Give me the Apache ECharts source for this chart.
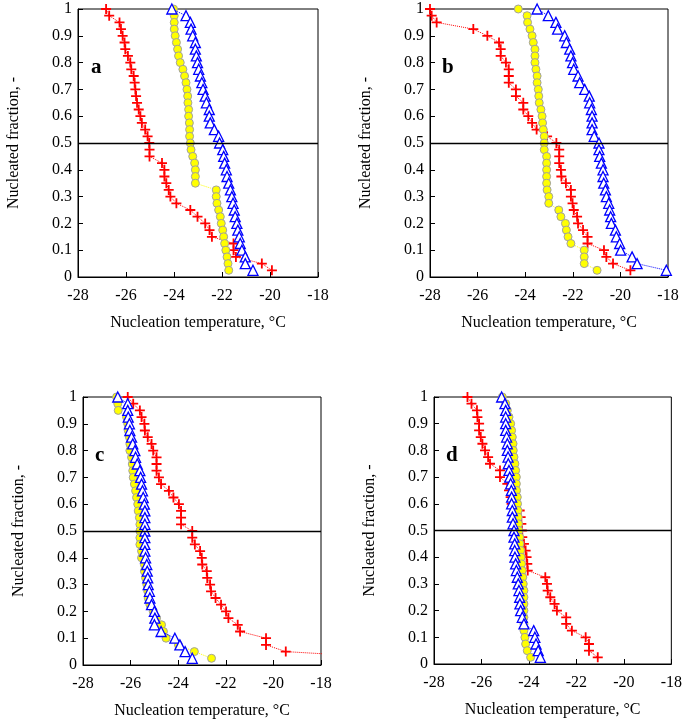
<!DOCTYPE html>
<html><head><meta charset="utf-8">
<script src="https://cdn.jsdelivr.net/npm/echarts@6/dist/echarts.min.js"></script>
<style>html,body{margin:0;padding:0;background:#fff}#c{width:685px;height:725px}</style>
</head><body><div id="c"></div>
<script>
// Nucleated fraction levels (shared by all series)
const FRACTION = [1, 0.975, 0.95, 0.925, 0.9, 0.875, 0.85, 0.825, 0.8, 0.775,
  0.75, 0.725, 0.7, 0.675, 0.65, 0.625, 0.6, 0.575, 0.55, 0.525,
  0.5, 0.475, 0.45, 0.425, 0.4, 0.375, 0.35, 0.325, 0.3, 0.275,
  0.25, 0.225, 0.2, 0.175, 0.15, 0.125, 0.1, 0.075, 0.05, 0.025];
const REF_FRACTION = 0.5;
const PANELS = ['a', 'b', 'c', 'd'];
const X_TITLE = 'Nucleation temperature, °C';
const Y_TITLE = 'Nucleated fraction, -';

// Nucleation temperatures (°C), in order of FRACTION
const A_RED = [-26.83,-26.70,-26.27,-26.21,-26.14,-26.06,-26.03,-25.92,-25.82,-25.78,-25.68,-25.64,-25.61,-25.58,-25.54,-25.47,-25.40,-25.34,-25.20,-25.10,-25.03,-25.02,-25.02,-24.50,-24.40,-24.40,-24.32,-24.22,-24.15,-23.90,-23.32,-23.02,-22.70,-22.52,-22.42,-21.52,-21.52,-21.42,-20.34,-19.92];
const A_YELLOW = [-24.02,-23.99,-23.99,-23.99,-23.95,-23.90,-23.85,-23.81,-23.74,-23.63,-23.56,-23.50,-23.46,-23.43,-23.42,-23.39,-23.39,-23.36,-23.35,-23.35,-23.32,-23.29,-23.22,-23.14,-23.11,-23.11,-23.11,-22.24,-22.24,-22.21,-22.14,-22.07,-22.03,-21.97,-21.93,-21.89,-21.84,-21.79,-21.75,-21.72];
const A_BLUE = [-24.09,-23.50,-23.32,-23.29,-23.22,-23.11,-23.11,-23.07,-23.02,-22.97,-22.90,-22.84,-22.79,-22.70,-22.65,-22.53,-22.53,-22.49,-22.32,-22.14,-22.10,-21.97,-21.93,-21.89,-21.82,-21.79,-21.72,-21.65,-21.59,-21.54,-21.49,-21.45,-21.38,-21.34,-21.28,-21.24,-21.17,-21.03,-21.03,-20.71];

const B_RED = [-28.00,-27.93,-27.72,-26.18,-25.59,-25.10,-25.03,-25.03,-24.81,-24.69,-24.69,-24.69,-24.39,-24.39,-24.08,-24.08,-23.87,-23.71,-23.52,-23.08,-22.69,-22.57,-22.57,-22.57,-22.50,-22.48,-22.29,-22.08,-22.08,-22.01,-21.96,-21.82,-21.78,-21.57,-21.38,-21.38,-20.69,-20.59,-20.31,-19.58];
const B_YELLOW = [-24.29,-23.92,-23.90,-23.80,-23.71,-23.66,-23.59,-23.59,-23.59,-23.55,-23.50,-23.50,-23.45,-23.43,-23.41,-23.34,-23.29,-23.27,-23.24,-23.20,-23.20,-23.20,-23.10,-23.10,-23.10,-23.10,-23.10,-23.08,-23.01,-23.01,-22.59,-22.50,-22.31,-22.27,-22.20,-22.08,-21.52,-21.52,-21.52,-20.98];
const B_BLUE = [-23.50,-23.03,-22.71,-22.64,-22.34,-22.27,-22.13,-22.08,-22.01,-21.96,-21.78,-21.71,-21.50,-21.31,-21.29,-21.22,-21.19,-21.19,-21.19,-21.10,-20.90,-20.90,-20.87,-20.80,-20.73,-20.73,-20.70,-20.63,-20.59,-20.49,-20.45,-20.41,-20.38,-20.21,-20.17,-20.03,-19.99,-19.51,-19.30,-18.07];

const C_RED = [-26.12,-25.89,-25.61,-25.54,-25.42,-25.40,-25.28,-25.12,-25.05,-24.91,-24.91,-24.91,-24.81,-24.72,-24.39,-24.20,-23.97,-23.88,-23.88,-23.88,-23.41,-23.41,-23.30,-23.08,-23.01,-22.99,-22.80,-22.78,-22.66,-22.62,-22.43,-22.20,-21.99,-21.89,-21.50,-21.40,-20.31,-20.31,-19.48,-14.70];
const C_YELLOW = [-26.59,-26.54,-26.52,-26.17,-26.12,-26.10,-26.05,-26.03,-26.03,-25.96,-25.93,-25.91,-25.89,-25.84,-25.79,-25.75,-25.70,-25.68,-25.63,-25.61,-25.61,-25.61,-25.61,-25.54,-25.54,-25.42,-25.42,-25.37,-25.32,-25.28,-25.26,-25.19,-25.05,-24.91,-24.70,-24.62,-24.51,-23.99,-23.32,-22.60];
const C_BLUE = [-26.54,-26.12,-26.12,-26.10,-26.05,-26.03,-25.96,-25.91,-25.82,-25.79,-25.72,-25.61,-25.58,-25.54,-25.50,-25.47,-25.42,-25.40,-25.40,-25.40,-25.40,-25.40,-25.40,-25.40,-25.37,-25.32,-25.30,-25.28,-25.26,-25.21,-25.19,-25.12,-25.00,-24.98,-25.00,-24.72,-24.14,-23.93,-23.71,-23.41];

const D_RED = [-26.59,-26.42,-26.19,-26.17,-26.10,-26.10,-26.03,-25.96,-25.85,-25.72,-25.64,-25.22,-25.22,-24.91,-24.84,-24.77,-24.73,-24.39,-24.35,-24.32,-24.30,-24.28,-24.21,-24.14,-24.10,-24.07,-24.05,-23.31,-23.24,-23.21,-23.10,-22.92,-22.82,-22.43,-22.43,-22.19,-21.61,-21.47,-21.47,-21.10];
const D_YELLOW = [-25.12,-24.98,-24.91,-24.84,-24.77,-24.73,-24.70,-24.67,-24.66,-24.63,-24.59,-24.56,-24.53,-24.53,-24.52,-24.49,-24.48,-24.46,-24.45,-24.44,-24.42,-24.39,-24.38,-24.35,-24.33,-24.31,-24.28,-24.26,-24.24,-24.21,-24.21,-24.21,-24.21,-24.21,-24.21,-24.21,-24.17,-24.14,-24.07,-23.93];
const D_BLUE = [-25.15,-25.01,-24.98,-24.98,-24.98,-24.98,-24.94,-24.91,-24.91,-24.88,-24.87,-24.84,-24.81,-24.77,-24.74,-24.73,-24.73,-24.70,-24.70,-24.67,-24.63,-24.63,-24.60,-24.60,-24.59,-24.56,-24.53,-24.49,-24.45,-24.42,-24.39,-24.38,-24.35,-24.28,-24.21,-23.80,-23.75,-23.70,-23.61,-23.52];

const PANEL_DATA = [
  [A_RED, A_YELLOW, A_BLUE],
  [B_RED, B_YELLOW, B_BLUE],
  [C_RED, C_YELLOW, C_BLUE],
  [D_RED, D_YELLOW, D_BLUE]
];

const FONT = "'Liberation Serif', 'Times New Roman', serif";
const GRIDS = [
  {left: 78, top: 9, width: 240, height: 268},
  {left: 430, top: 9, width: 238, height: 268},
  {left: 83, top: 397, width: 238, height: 268},
  {left: 434, top: 397, width: 239, height: 267}
];
const LETTER_POS = [[91, 57], [442, 57], [95, 445], [446, 445]];

const STYLES = [
  { // red plus
    symbol: 'path://M4.1,0H5.9V4.1H10V5.9H5.9V10H4.1V5.9H0V4.1H4.1Z', symbolSize: 10,
    itemStyle: {color: '#ff0000', borderWidth: 0},
    lineStyle: {color: '#ff0000', type: 'dotted', width: 1}, z: 2
  },
  { // yellow circle
    symbol: 'circle', symbolSize: 8,
    itemStyle: {color: '#ffff00', borderColor: '#a0a0a0', borderWidth: 1},
    lineStyle: {color: '#ffff00', type: 'dotted', width: 1}, z: 3
  },
  { // blue triangle
    symbol: 'triangle', symbolSize: 10,
    itemStyle: {color: '#ffffff', borderColor: '#0000ff', borderWidth: 1.3},
    lineStyle: {color: '#0000ff', type: 'dotted', width: 1}, z: 4
  }
];

const grid = GRIDS.map(g => Object.assign({show: true, borderColor: '#000', borderWidth: 1, backgroundColor: 'transparent'}, g));
const xAxis = GRIDS.map((g, i) => ({
  type: 'value', gridIndex: i, min: -28, max: -18, interval: 2,
  name: X_TITLE, nameLocation: 'middle', nameGap: 38,
  nameTextStyle: {fontFamily: FONT, fontSize: 16, color: '#000'},
  axisLine: {show: true, onZero: false, lineStyle: {color: '#000', width: 1}},
  axisTick: {show: true, inside: true, length: 5, lineStyle: {color: '#000'}},
  axisLabel: {fontFamily: FONT, fontSize: 16, color: '#000', margin: 11},
  splitLine: {show: false}
}));
const yAxis = GRIDS.map((g, i) => ({
  type: 'value', gridIndex: i, min: 0, max: 1, interval: 0.1,
  name: Y_TITLE, nameLocation: 'middle', nameGap: 56,
  nameTextStyle: {fontFamily: FONT, fontSize: 16, color: '#000'},
  axisLine: {show: true, onZero: false, lineStyle: {color: '#000', width: 1}},
  axisTick: {show: true, inside: true, length: 5, lineStyle: {color: '#000'}},
  axisLabel: {fontFamily: FONT, fontSize: 16, color: '#000', margin: 6,
    formatter: v => String(Math.round(v * 10) / 10)},
  splitLine: {show: false}
}));

const series = [];
PANEL_DATA.forEach((panel, p) => {
  panel.forEach((temps, s) => {
    const st = STYLES[s];
    const ser = {
      type: 'line', xAxisIndex: p, yAxisIndex: p,
      data: temps.map((t, j) => [t, FRACTION[j]]),
      symbol: st.symbol, symbolSize: st.symbolSize, showSymbol: true,
      itemStyle: st.itemStyle, lineStyle: st.lineStyle, z: st.z,
      clip: true, silent: true, animation: false,
      emphasis: {disabled: true}
    };
    if (s === 0) {
      ser.markLine = {
        silent: true, symbol: ['none', 'none'], animation: false,
        label: {show: false},
        lineStyle: {color: '#000', type: 'solid', width: 1.3},
        data: [{yAxis: REF_FRACTION}]
      };
    }
    series.push(ser);
  });
});

const graphic = PANELS.map((t, i) => ({
  type: 'text', x: LETTER_POS[i][0], y: LETTER_POS[i][1], z: 10,
  style: {text: t, font: "bold 21px " + FONT, fill: '#000', textBaseline: 'alphabetic'}
}));

const chart = echarts.init(document.getElementById('c'), null, {renderer: 'canvas'});
chart.setOption({animation: false, grid, xAxis, yAxis, series, graphic});
</script>
</body></html>
